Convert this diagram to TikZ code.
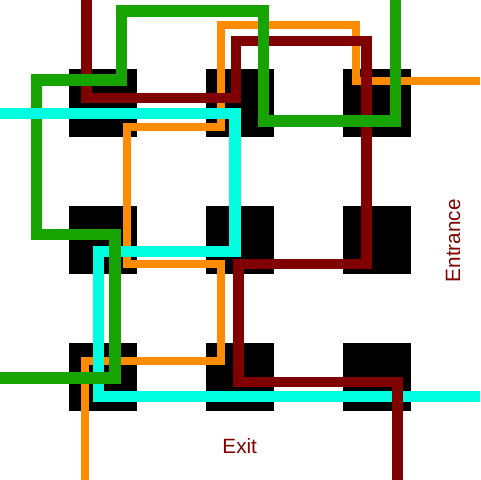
\documentclass[tikz,border=0pt]{standalone}
\usepackage{fontspec}
\setmainfont{Liberation Sans}
\tikzset{every picture/.style={line width=0.75pt}}

\begin{document}
\begin{tikzpicture}[x=0.75pt,y=0.75pt,yscale=-1,xscale=1,
  pillar/.style={fill=black},
  orangepath/.style={color={rgb, 255:red, 255; green, 140; blue, 0 }, line width=6},
  cyanpath/.style={color={rgb, 255:red, 0; green, 255; blue, 224 }, line width=8.3},
  redpath/.style={color={rgb, 255:red, 128; green, 0; blue, 0 }, line width=7.8},
  greenpath/.style={color={rgb, 255:red, 23; green, 163; blue, 0 }, line width=8.6},
  sign/.style={color={rgb, 255:red, 128; green, 0; blue, 0 }, inner sep=0.75pt, font=\fontsize{15.5}{18}\selectfont}]
%set diagram to 480 x 480
\useasboundingbox [fill=white] (0,0) rectangle (480,480);

%Shape: Square, top row
\fill [pillar] (68.57,68.57) rectangle (137.14,137.14);
\fill [pillar] (205.71,68.57) rectangle (274.29,137.14);
\fill [pillar] (342.86,68.57) rectangle (411.43,137.14);
%Shape: Square, middle row
\fill [pillar] (68.57,205.71) rectangle (137.14,274.29);
\fill [pillar] (205.71,205.71) rectangle (274.29,274.29);
\fill [pillar] (342.86,205.71) rectangle (411.43,274.29);
%Shape: Square, bottom row
\fill [pillar] (68.57,342.86) rectangle (137.14,411.43);
\fill [pillar] (205.71,342.86) rectangle (274.29,411.43);
\fill [pillar] (342.86,342.86) rectangle (411.43,411.43);

%Path: orange
\draw [orangepath] (480,80.7) -- (356.5,80.7) -- (356.5,24.5) -- (221.3,24.5) -- (221.3,127) -- (127.2,127) -- (127.2,264) -- (220.8,264) -- (220.8,360.7) -- (85,360.7) -- (85,480) ;
%Path: cyan
\draw [cyanpath] (0,113.7) -- (235,113.7) -- (235,251.2) -- (98.3,251.2) -- (98.3,396.8) -- (480,396.8) ;
%Path: dark red
\draw [redpath] (86.7,0) -- (86.7,98) -- (235.8,98) -- (235.8,41) -- (366.7,41) -- (366.7,263.8) -- (238.5,263.8) -- (238.5,381.7) -- (397.7,381.7) -- (397.7,480) ;
%Path: green
\draw [greenpath] (395.4,0) -- (395.4,121.2) -- (263.5,121.2) -- (263.5,10.8) -- (121.7,10.8) -- (121.7,80.2) -- (36.6,80.2) -- (36.6,234.7) -- (114.8,234.7) -- (114.8,378) -- (0,378) ;
%Path: cyan again where it runs over the green
\draw [cyanpath] (0,113.7) -- (60,113.7) ;

% Text Node
\node (exit) [sign] at (239.7,446) {Exit};
% Text Node
\node (entrance) [sign, rotate=90] at (453,240.7) {Entrance};

\end{tikzpicture}
\end{document}
